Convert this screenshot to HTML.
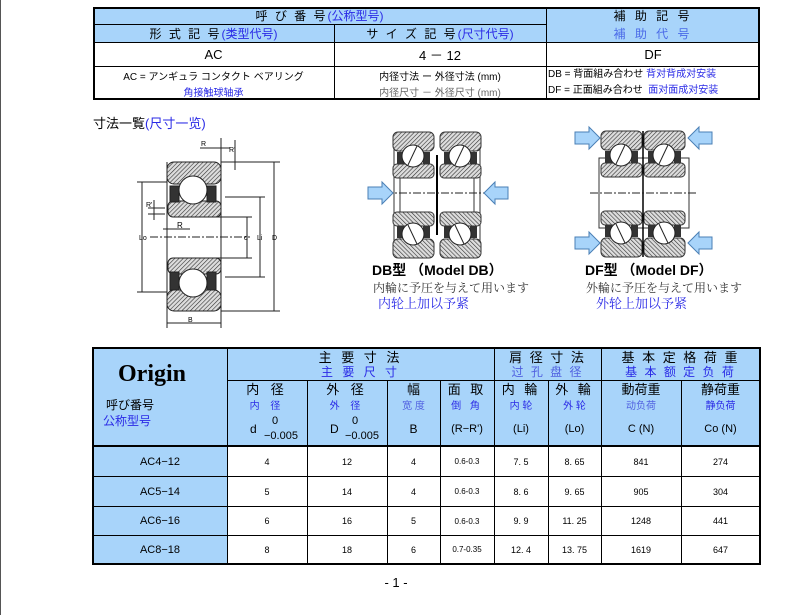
<!DOCTYPE html>
<html><head><meta charset="utf-8"><style>
body{margin:0;width:793px;height:615px;background:#fff;position:relative;overflow:hidden;font-family:"Liberation Sans","Noto Sans CJK JP",sans-serif;color:#000}
.a{position:absolute}
.c{position:absolute;display:flex;align-items:center;justify-content:center;text-align:center;box-sizing:border-box;white-space:nowrap}
.bl{color:#2a2ae6}
.hb{background:#a8d4fa}
.t{position:absolute;white-space:nowrap;line-height:1}
</style></head><body>
<div class="a" style="left:0;top:0;width:1px;height:615px;background:#555"></div>

<!-- TOP TABLE -->
<div class="a hb" style="left:93px;top:7px;width:667px;height:36px"></div>
<div class="a" style="left:93px;top:7px;width:667px;height:93px;border:2px solid #000;box-sizing:border-box"></div>
<div class="a" style="left:93px;top:24px;width:453px;height:1px;background:#000"></div>
<div class="a" style="left:93px;top:42px;width:667px;height:1px;background:#000"></div>
<div class="a" style="left:93px;top:66px;width:667px;height:1px;background:#000"></div>
<div class="a" style="left:334px;top:24px;width:1px;height:76px;background:#000"></div>
<div class="a" style="left:546px;top:7px;width:1px;height:93px;background:#000"></div>
<div class="c" style="left:93px;top:7px;width:453px;height:17px;font-size:12px;letter-spacing:2px">呼 び 番 号 <span class="bl" style="letter-spacing:0">(公称型号)</span></div>
<div class="c" style="left:546px;top:7px;width:214px;height:17px;font-size:12px;letter-spacing:3px">補 助 記 号</div>
<div class="c" style="left:93px;top:24px;width:241px;height:18px;font-size:12px;letter-spacing:2px">形 式 記 号 <span class="bl" style="letter-spacing:0">(类型代号)</span></div>
<div class="c" style="left:334px;top:24px;width:212px;height:18px;font-size:12px;letter-spacing:2px">サ イ ズ 記 号 <span class="bl" style="letter-spacing:0">(尺寸代号)</span></div>
<div class="c bl" style="left:546px;top:24px;width:214px;height:18px;font-size:12px;letter-spacing:3px;color:#4a6ae8">補 助 代 号</div>
<div class="c" style="left:93px;top:43px;width:241px;height:23px;font-size:13px">AC</div>
<div class="c" style="left:334px;top:43px;width:212px;height:23px;font-size:13px">4 － 12</div>
<div class="c" style="left:546px;top:43px;width:214px;height:23px;font-size:13px">DF</div>
<div class="c" style="left:93px;top:68px;width:241px;height:14px;font-size:10px">AC = アンギュラ コンタクト ベアリング</div>
<div class="c bl" style="left:93px;top:84px;width:241px;height:14px;font-size:10px">角接触球轴承</div>
<div class="c" style="left:334px;top:68px;width:212px;height:14px;font-size:10px">内径寸法 ー 外径寸法 (mm)</div>
<div class="c" style="left:334px;top:84px;width:212px;height:14px;font-size:10px;color:#666">内径尺寸 － 外径尺寸 (mm)</div>
<div class="t" style="left:548px;top:70px;font-size:10px">DB = 背面組み合わせ <span class="bl">背对背成对安装</span></div>
<div class="t" style="left:548px;top:86px;font-size:10px">DF = 正面組み合わせ &nbsp;<span class="bl">面对面成对安装</span></div>

<div class="t" style="left:93px;top:117px;font-size:13px">寸法一覧<span class="bl">(尺寸一览)</span></div>

<svg class="a" style="left:0;top:0" width="793" height="615">
<defs>
<pattern id="h" width="3" height="3" patternUnits="userSpaceOnUse" patternTransform="rotate(45)"><rect width="3" height="3" fill="#ddd"/><line x1="0" y1="0" x2="0" y2="3" stroke="#333" stroke-width="1.2"/></pattern>
<g id="half">
 <rect x="0" y="0" width="41" height="19" rx="5" fill="url(#h)" stroke="#333"/>
 <rect x="4" y="20" width="7" height="14" fill="#333"/><rect x="30" y="20" width="7" height="14" fill="#333"/>
 <rect x="0" y="32" width="41" height="14" rx="4" fill="url(#h)" stroke="#333"/>
 <circle cx="20" cy="24" r="11" fill="#fff" stroke="#222"/>
 <line x1="15" y1="33" x2="24" y2="14" stroke="#222"/>
</g>
</defs>
<g stroke="#222" fill="none">
<rect x="167" y="162" width="54" height="22" rx="7" fill="url(#h)"/>
<rect x="168" y="201" width="53" height="16" rx="5" fill="url(#h)"/>
<rect x="170" y="186" width="9" height="16" fill="#333"/><rect x="207" y="186" width="9" height="16" fill="#333"/>
<circle cx="193" cy="190" r="14" fill="#fff"/>
<rect x="168" y="258" width="53" height="16" rx="5" fill="url(#h)"/>
<rect x="167" y="290" width="54" height="21" rx="7" fill="url(#h)"/>
<rect x="170" y="272" width="9" height="18" fill="#333"/><rect x="207" y="272" width="9" height="18" fill="#333"/>
<circle cx="193" cy="283" r="14" fill="#fff"/>
<line x1="167" y1="162" x2="167" y2="328" stroke-width="1"/>
<line x1="221" y1="138" x2="221" y2="328"/>
<line x1="150" y1="237" x2="250" y2="237" stroke-dasharray="8,2,2,2"/>
<line x1="221" y1="162" x2="280" y2="162"/><line x1="221" y1="311" x2="280" y2="311"/>
<line x1="274" y1="162" x2="274" y2="311"/>
<line x1="137" y1="182" x2="167" y2="182"/><line x1="137" y1="292" x2="167" y2="292"/>
<line x1="142" y1="182" x2="142" y2="292"/>
<line x1="225" y1="197" x2="265" y2="197"/><line x1="225" y1="277" x2="265" y2="277"/>
<line x1="260" y1="197" x2="260" y2="277"/>
<line x1="205" y1="217" x2="252" y2="217"/><line x1="205" y1="258" x2="252" y2="258"/>
<line x1="247" y1="217" x2="247" y2="258"/>
<line x1="167" y1="323" x2="221" y2="323"/>
<line x1="200" y1="148" x2="230" y2="148"/><line x1="235" y1="140" x2="235" y2="170"/>
<line x1="154" y1="200" x2="154" y2="220"/><line x1="148" y1="208" x2="165" y2="208"/><line x1="148" y1="214" x2="165" y2="214"/>
<line x1="163" y1="229" x2="190" y2="229"/>
</g>
<g font-size="7" font-family="Liberation Sans">
<text x="201" y="146">R</text><text x="229" y="152">R'</text><text x="146" y="207">R'</text><text x="177" y="228" font-size="8">R</text>
<text x="188" y="322">B</text><text x="272" y="240">D</text><text x="139" y="240">Lo</text><text x="244" y="240">d</text><text x="257" y="240">Li</text>
</g>
<rect x="394" y="140" width="6" height="110" fill="#fff" stroke="#333"/><rect x="474" y="140" width="6" height="110" fill="#fff" stroke="#333"/>
<use href="#half" x="393" y="132"/><use href="#half" x="440" y="132"/>
<g transform="translate(0,390) scale(1,-1)"><use href="#half" x="393" y="132"/><use href="#half" x="440" y="132"/></g>
<line x1="437" y1="155" x2="437" y2="235" stroke="#000" stroke-width="2"/>
<line x1="385" y1="193" x2="490" y2="193" stroke="#222" stroke-dasharray="8,2,2,2"/>
<polygon points="368,187 382,187 382,182 393,193 382,204 382,199 368,199" fill="#a8d4fa" stroke="#4a7fb5"/>
<polygon points="508,187 495,187 495,182 484,193 495,204 495,199 508,199" fill="#a8d4fa" stroke="#4a7fb5"/>
<rect x="599" y="158" width="90" height="70" fill="#fff" stroke="#333"/>
<use href="#half" x="601" y="131"/><use href="#half" x="644" y="131"/>
<g transform="translate(0,388) scale(1,-1)"><use href="#half" x="601" y="131"/><use href="#half" x="644" y="131"/></g>
<line x1="643" y1="131" x2="643" y2="257" stroke="#000" stroke-width="1.5"/>
<line x1="590" y1="193" x2="698" y2="193" stroke="#222" stroke-dasharray="8,2,2,2"/>
<polygon points="575,132 589,132 589,127 600,138 589,149 589,144 575,144" fill="#a8d4fa" stroke="#4a7fb5"/>
<polygon points="712,132 699,132 699,127 688,138 699,149 699,144 712,144" fill="#a8d4fa" stroke="#4a7fb5"/>
<polygon points="575,237 589,237 589,232 600,243 589,254 589,249 575,249" fill="#a8d4fa" stroke="#4a7fb5"/>
<polygon points="712,237 699,237 699,232 688,243 699,254 699,249 712,249" fill="#a8d4fa" stroke="#4a7fb5"/>
</svg>

<div class="t" style="left:372px;top:263px;font-size:14px;font-weight:bold">DB型 （Model DB）</div>
<div class="t" style="left:373px;top:282px;font-size:12px;color:#333;font-family:'Liberation Serif','Noto Serif CJK SC',serif">内輪に予圧を与えて用います</div>
<div class="t bl" style="left:378px;top:297px;font-size:13px;font-family:'Liberation Serif','Noto Serif CJK SC',serif">内轮上加以予紧</div>
<div class="t" style="left:585px;top:263px;font-size:14px;font-weight:bold">DF型 （Model DF）</div>
<div class="t" style="left:586px;top:282px;font-size:12px;color:#333;font-family:'Liberation Serif','Noto Serif CJK SC',serif">外輪に予圧を与えて用います</div>
<div class="t bl" style="left:596px;top:297px;font-size:13px;font-family:'Liberation Serif','Noto Serif CJK SC',serif">外轮上加以予紧</div>

<div class="a hb" style="left:93px;top:348px;width:667px;height:98px"></div>
<div class="a hb" style="left:93px;top:446px;width:134px;height:117px"></div>
<div class="a" style="left:92px;top:347px;width:669px;height:218px;border:2px solid #000;box-sizing:border-box"></div>
<div class="a" style="left:93px;top:445px;width:667px;height:2px;background:#000"></div>
<div class="a" style="left:93px;top:476px;width:667px;height:1px;background:#000"></div>
<div class="a" style="left:93px;top:506px;width:667px;height:1px;background:#000"></div>
<div class="a" style="left:93px;top:535px;width:667px;height:1px;background:#000"></div>
<div class="a" style="left:227px;top:380px;width:533px;height:1px;background:#000"></div>
<div class="a" style="left:227px;top:348px;width:1px;height:215px;background:#000"></div>
<div class="a" style="left:307px;top:380px;width:1px;height:183px;background:#000"></div>
<div class="a" style="left:387px;top:380px;width:1px;height:183px;background:#000"></div>
<div class="a" style="left:440px;top:380px;width:1px;height:183px;background:#000"></div>
<div class="a" style="left:494px;top:348px;width:1px;height:215px;background:#000"></div>
<div class="a" style="left:548px;top:380px;width:1px;height:183px;background:#000"></div>
<div class="a" style="left:601px;top:348px;width:1px;height:215px;background:#000"></div>
<div class="a" style="left:681px;top:380px;width:1px;height:183px;background:#000"></div>

<div class="t" style="left:118px;top:362px;font-size:24px;font-weight:bold;font-family:'Liberation Serif',serif">Origin</div>
<div class="t" style="left:106px;top:399px;font-size:12px">呼び番号</div>
<div class="t bl" style="left:103px;top:415px;font-size:12px">公称型号</div>

<div class="c" style="left:227px;top:349px;width:267px;height:15px;font-size:13px;letter-spacing:3px">主 要 寸 法</div>
<div class="c bl" style="left:227px;top:364px;width:267px;height:15px;font-size:12px;letter-spacing:3px">主 要 尺 寸</div>
<div class="c" style="left:494px;top:349px;width:107px;height:15px;font-size:13px;letter-spacing:2px">肩 径 寸 法</div>
<div class="c bl" style="left:494px;top:364px;width:107px;height:15px;font-size:12px;letter-spacing:2px;color:#5060e0">过 孔 盘 径</div>
<div class="c" style="left:601px;top:349px;width:159px;height:15px;font-size:13px;letter-spacing:2px">基 本 定 格 荷 重</div>
<div class="c bl" style="left:601px;top:364px;width:159px;height:15px;font-size:12px;letter-spacing:2px">基 本 额 定 负 荷</div>

<div class="c" style="left:227px;top:381px;width:80px;height:15px;font-size:13px;letter-spacing:4px">内 径</div>
<div class="c bl" style="left:227px;top:398px;width:80px;height:13px;font-size:10px;letter-spacing:4px">内 径</div>
<div class="t" style="left:250px;top:423px;font-size:12px">d</div>
<div class="t" style="left:272px;top:416px;font-size:11px">0</div>
<div class="t" style="left:264px;top:431px;font-size:11px">−0.005</div>
<div class="c" style="left:307px;top:381px;width:80px;height:15px;font-size:13px;letter-spacing:4px">外 径</div>
<div class="c bl" style="left:307px;top:398px;width:80px;height:13px;font-size:10px;letter-spacing:4px">外 径</div>
<div class="t" style="left:330px;top:423px;font-size:12px">D</div>
<div class="t" style="left:352px;top:416px;font-size:11px">0</div>
<div class="t" style="left:345px;top:431px;font-size:11px">−0.005</div>
<div class="c" style="left:387px;top:381px;width:53px;height:15px;font-size:13px">幅</div>
<div class="c bl" style="left:387px;top:398px;width:53px;height:13px;font-size:10px;color:#5060e0">宽 度</div>
<div class="c" style="left:387px;top:422px;width:53px;height:14px;font-size:12px">B</div>
<div class="c" style="left:440px;top:381px;width:54px;height:15px;font-size:13px;letter-spacing:3px">面 取</div>
<div class="c bl" style="left:440px;top:398px;width:54px;height:13px;font-size:10px;letter-spacing:3px">倒 角</div>
<div class="c" style="left:440px;top:422px;width:54px;height:14px;font-size:11px">(R−R')</div>
<div class="c" style="left:494px;top:381px;width:54px;height:15px;font-size:13px;letter-spacing:3px">内 輪</div>
<div class="c bl" style="left:494px;top:398px;width:54px;height:13px;font-size:10px">内 轮</div>
<div class="c" style="left:494px;top:422px;width:54px;height:14px;font-size:11px">(Li)</div>
<div class="c" style="left:548px;top:381px;width:53px;height:15px;font-size:13px;letter-spacing:3px">外 輪</div>
<div class="c bl" style="left:548px;top:398px;width:53px;height:13px;font-size:10px">外 轮</div>
<div class="c" style="left:548px;top:422px;width:53px;height:14px;font-size:11px">(Lo)</div>
<div class="c" style="left:601px;top:381px;width:80px;height:15px;font-size:13px">動荷重</div>
<div class="c bl" style="left:601px;top:398px;width:80px;height:13px;font-size:10px;color:#5060e0">动负荷</div>
<div class="c" style="left:601px;top:422px;width:80px;height:14px;font-size:11px">C (N)</div>
<div class="c" style="left:681px;top:381px;width:79px;height:15px;font-size:13px">静荷重</div>
<div class="c bl" style="left:681px;top:398px;width:79px;height:13px;font-size:10px">静负荷</div>
<div class="c" style="left:681px;top:422px;width:79px;height:14px;font-size:11px">Co (N)</div>

<div class="c" style="left:93px;top:447px;width:134px;height:29px;font-size:11px">AC4−12</div>
<div class="c" style="left:227px;top:447px;width:80px;height:29px;font-size:9px">4</div>
<div class="c" style="left:307px;top:447px;width:80px;height:29px;font-size:9px">12</div>
<div class="c" style="left:387px;top:447px;width:53px;height:29px;font-size:9px">4</div>
<div class="c" style="left:440px;top:447px;width:54px;height:29px;font-size:8px">0.6-0.3</div>
<div class="c" style="left:494px;top:447px;width:54px;height:29px;font-size:9px">7. 5</div>
<div class="c" style="left:548px;top:447px;width:53px;height:29px;font-size:9px">8. 65</div>
<div class="c" style="left:601px;top:447px;width:80px;height:29px;font-size:9px">841</div>
<div class="c" style="left:681px;top:447px;width:79px;height:29px;font-size:9px">274</div>

<div class="c" style="left:93px;top:477px;width:134px;height:29px;font-size:11px">AC5−14</div>
<div class="c" style="left:227px;top:477px;width:80px;height:29px;font-size:9px">5</div>
<div class="c" style="left:307px;top:477px;width:80px;height:29px;font-size:9px">14</div>
<div class="c" style="left:387px;top:477px;width:53px;height:29px;font-size:9px">4</div>
<div class="c" style="left:440px;top:477px;width:54px;height:29px;font-size:8px">0.6-0.3</div>
<div class="c" style="left:494px;top:477px;width:54px;height:29px;font-size:9px">8. 6</div>
<div class="c" style="left:548px;top:477px;width:53px;height:29px;font-size:9px">9. 65</div>
<div class="c" style="left:601px;top:477px;width:80px;height:29px;font-size:9px">905</div>
<div class="c" style="left:681px;top:477px;width:79px;height:29px;font-size:9px">304</div>

<div class="c" style="left:93px;top:507px;width:134px;height:28px;font-size:11px">AC6−16</div>
<div class="c" style="left:227px;top:507px;width:80px;height:28px;font-size:9px">6</div>
<div class="c" style="left:307px;top:507px;width:80px;height:28px;font-size:9px">16</div>
<div class="c" style="left:387px;top:507px;width:53px;height:28px;font-size:9px">5</div>
<div class="c" style="left:440px;top:507px;width:54px;height:28px;font-size:8px">0.6-0.3</div>
<div class="c" style="left:494px;top:507px;width:54px;height:28px;font-size:9px">9. 9</div>
<div class="c" style="left:548px;top:507px;width:53px;height:28px;font-size:9px">11. 25</div>
<div class="c" style="left:601px;top:507px;width:80px;height:28px;font-size:9px">1248</div>
<div class="c" style="left:681px;top:507px;width:79px;height:28px;font-size:9px">441</div>

<div class="c" style="left:93px;top:536px;width:134px;height:27px;font-size:11px">AC8−18</div>
<div class="c" style="left:227px;top:536px;width:80px;height:27px;font-size:9px">8</div>
<div class="c" style="left:307px;top:536px;width:80px;height:27px;font-size:9px">18</div>
<div class="c" style="left:387px;top:536px;width:53px;height:27px;font-size:9px">6</div>
<div class="c" style="left:440px;top:536px;width:54px;height:27px;font-size:8px">0.7-0.35</div>
<div class="c" style="left:494px;top:536px;width:54px;height:27px;font-size:9px">12. 4</div>
<div class="c" style="left:548px;top:536px;width:53px;height:27px;font-size:9px">13. 75</div>
<div class="c" style="left:601px;top:536px;width:80px;height:27px;font-size:9px">1619</div>
<div class="c" style="left:681px;top:536px;width:79px;height:27px;font-size:9px">647</div>

<div class="c" style="left:376px;top:574px;width:40px;height:16px;font-size:13px">- 1 -</div>
</body></html>
